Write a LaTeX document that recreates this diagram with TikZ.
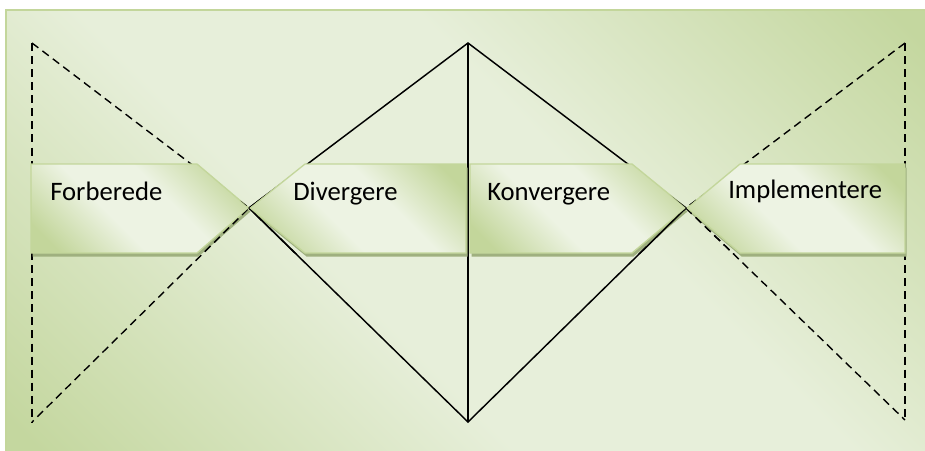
\documentclass[tikz,border=0pt]{standalone}
\usepackage{fontspec}
\setmainfont{Carlito}
\definecolor{bgG}{HTML}{C4D79F}
\definecolor{bgL}{HTML}{E7EFDA}
\definecolor{boxG}{HTML}{C3D69B}
\definecolor{boxL}{HTML}{EDF3E3}
\definecolor{edgeG}{HTML}{C3D69B}
\definecolor{shadowG}{HTML}{9FB07F}
\pgfdeclareverticalshading{bgsh}{100bp}{color(0bp)=(bgG); color(27bp)=(bgG); color(44bp)=(bgL); color(56bp)=(bgL); color(73bp)=(bgG); color(100bp)=(bgG)}
\pgfdeclareverticalshading{boxsh}{100bp}{color(0bp)=(boxG); color(33bp)=(boxG); color(45bp)=(boxL); color(55bp)=(boxL); color(67bp)=(boxG); color(100bp)=(boxG)}
\newcommand\bowlines{%
  \draw[dashline] (LT) -- (LB);
  \draw[dashline] (LT) -- (XL) -- (LB);
  \draw[solidline] (XL) -- (DT) -- (XR) -- (DB) -- cycle;
  \draw[solidline] (DT) -- (DB);
  \draw[dashline] (RT) -- (RB);
  \draw[dashline] (RT) -- (XR) -- (RB);
}
% #1 shape path, #2 centre x, #3 centre y
\newcommand\chevbox[3]{%
  \begin{scope}
  \clip #1;
  \shade[shading=boxsh, shading angle=-45] ({#2-130},{#3-130}) rectangle ({#2+130},{#3+130});
  \end{scope}
  \draw[chevedge] #1;
}
\begin{document}
\begin{tikzpicture}[x=0.75pt,y=-0.75pt,
  chevedge/.style={draw=edgeG, line width=1pt, line join=miter},
  boxshadow/.style={fill=shadowG},
  lbl/.style={font=\fontsize{20}{24}\selectfont, inner sep=0pt, anchor=base west},
  solidline/.style={draw=black, line width=1.1pt},
  dashline/.style={draw=black, line width=1.05pt, dash pattern=on 6pt off 3.8pt}]
\useasboundingbox (0,0) rectangle (925,450);
% background
\begin{scope}
\clip (6,10) rectangle (935,460);
\shade[shading=bgsh, shading angle=-45] (-30,-265) rectangle (970,735);
\end{scope}
\draw[draw=edgeG, line width=1.5pt] (6,460) -- (6,10) -- (935,10);
% named points
\coordinate (LT) at (32,43);
\coordinate (LB) at (32,422);
\coordinate (XL) at (249,208);
\coordinate (DT) at (468,43);
\coordinate (DB) at (468,422);
\coordinate (XR) at (686,208);
\coordinate (RT) at (905,43);
\coordinate (RB) at (905,420);
\bowlines
% shadows
\begin{scope}[shift={(1.5,3.5)}]
\fill[boxshadow] (31,164) -- (197,164) -- (249,208) -- (197,253) -- (31,253) -- cycle;
\fill[boxshadow] (305,164) -- (466,164) -- (466,253) -- (305,253) -- (250,208) -- cycle;
\fill[boxshadow] (470,164) -- (632,164) -- (686,208) -- (632,253) -- (470,253) -- cycle;
\fill[boxshadow] (740,164) -- (905,164) -- (905,253) -- (740,253) -- (687,208) -- cycle;
\end{scope}
% boxes
\chevbox{(31,164) -- (197,164) -- (249,208) -- (197,253) -- (31,253) -- cycle}{140}{208}
\chevbox{(305,164) -- (466,164) -- (466,253) -- (305,253) -- (250,208) -- cycle}{358}{208}
\chevbox{(470,164) -- (632,164) -- (686,208) -- (632,253) -- (470,253) -- cycle}{578}{208}
\chevbox{(740,164) -- (905,164) -- (905,253) -- (740,253) -- (687,208) -- cycle}{796}{208}
% lines visible in the notches between boxes
\begin{scope}
\clip (197,163) -- (249,208) -- (305,163) -- cycle
      (197,254) -- (249,208) -- (305,254) -- cycle
      (632,163) -- (686,208) -- (740,163) -- cycle
      (632,254) -- (686,208) -- (740,254) -- cycle;
\bowlines
\end{scope}
% labels
\node[lbl] (forberede) at (50,200) {Forberede};
\node[lbl] (divergere) at (293,200) {Divergere};
\node[lbl] (konvergere) at (487,200) {Konvergere};
\node[lbl] (implementere) at (728,198) {Implementere};
\end{tikzpicture}
\end{document}
